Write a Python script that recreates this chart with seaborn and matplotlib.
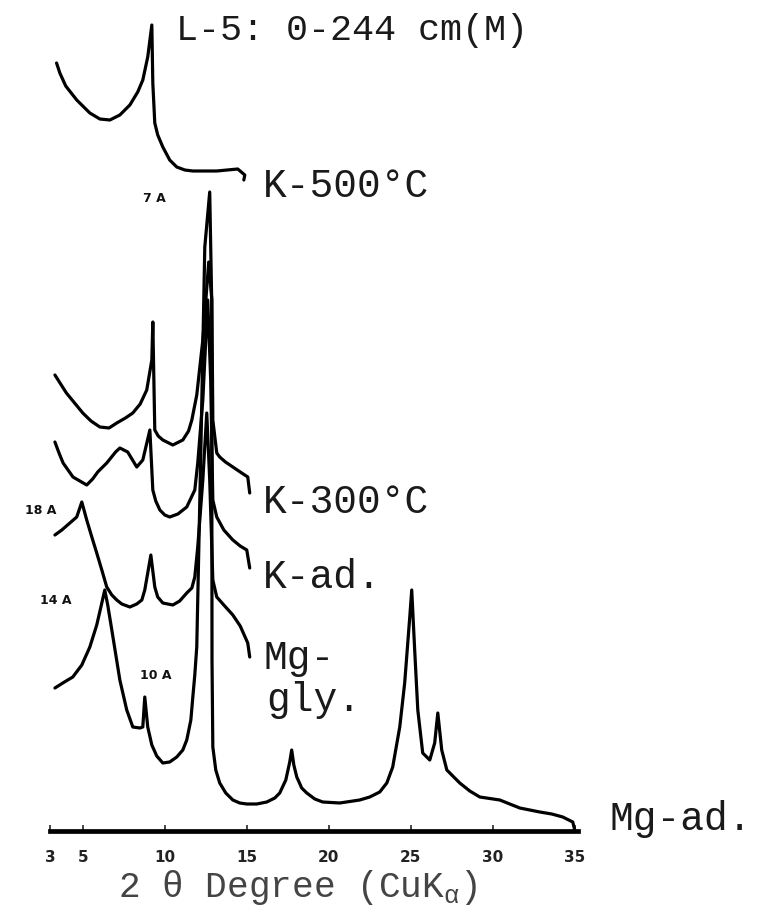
import numpy as np
import pandas as pd
import matplotlib
matplotlib.use("Agg")
import matplotlib.pyplot as plt
import seaborn as sns

# XRD traces, 2-theta (deg) vs offset intensity (arbitrary units)
k500_2t = [3.4, 3.6, 3.96, 4.63, 5.43, 6.04, 6.65, 7.26, 7.87, 8.35, 8.66, 8.96, 9.21, 9.27, 9.39, 9.57, 9.88, 10.3, 10.73, 11.22, 11.71, 13.17, 14.45, 14.88, 14.82]
k500_i = [76.8, 75.8, 74.5, 73.1, 71.8, 71.2, 71.1, 71.6, 72.6, 73.9, 75.1, 77.4, 80.6, 74.8, 70.8, 69.6, 68.4, 67.1, 66.4, 66.1, 66.0, 66.0, 66.2, 65.6, 65.1]

k300_2t = [3.3, 3.65, 4.0, 4.5, 5.0, 5.5, 6.04, 6.6, 7.07, 7.6, 8.05, 8.5, 8.9, 9.21, 9.27, 9.39, 9.6, 9.88, 10.49, 11.1, 11.45, 11.65, 11.95, 12.32, 12.68, 12.87, 12.93, 13.17, 13.35, 13.7, 14.15, 14.6, 15.06, 15.18]
k300_i = [45.6, 44.7, 43.8, 42.8, 41.8, 41.0, 40.4, 40.3, 40.8, 41.3, 41.8, 42.7, 44.1, 47.1, 50.9, 40.1, 39.5, 39.1, 38.6, 39.1, 40.0, 41.1, 43.6, 49.1, 56.9, 53.1, 41.1, 37.8, 37.4, 36.9, 36.4, 35.9, 35.4, 33.8]

kad_2t = [3.3, 3.55, 3.8, 4.4, 5.24, 5.6, 5.91, 6.46, 7.0, 7.26, 7.74, 8.29, 8.66, 9.09, 9.27, 9.45, 9.7, 10.0, 10.3, 10.8, 11.34, 11.83, 12.01, 12.32, 12.62, 12.8, 12.93, 13.17, 13.6, 14.15, 14.6, 15.0, 15.18]
kad_i = [38.9, 37.8, 36.8, 35.4, 34.6, 35.2, 35.9, 36.8, 37.9, 38.3, 37.9, 36.4, 37.1, 40.1, 34.1, 33.0, 32.1, 31.6, 31.4, 31.7, 32.4, 34.1, 36.8, 43.1, 53.1, 45.1, 33.1, 31.4, 30.1, 29.1, 28.5, 28.1, 26.3]

mggly_2t = [3.3, 3.72, 4.21, 4.63, 4.94, 5.24, 5.55, 5.85, 6.16, 6.46, 6.77, 7.07, 7.38, 7.87, 8.29, 8.6, 8.78, 8.96, 9.15, 9.39, 9.57, 9.88, 10.49, 10.91, 11.34, 11.65, 11.83, 12.01, 12.32, 12.56, 12.74, 12.93, 13.17, 13.6, 14.15, 14.6, 15.06, 15.18]
mggly_i = [29.6, 30.1, 30.8, 31.4, 32.9, 31.1, 29.4, 27.8, 26.1, 24.4, 23.6, 23.1, 22.7, 22.4, 22.7, 23.1, 24.1, 25.8, 27.6, 24.4, 23.4, 22.8, 22.6, 23.0, 23.8, 24.3, 25.4, 28.4, 35.1, 41.8, 35.1, 25.1, 23.4, 22.6, 21.6, 20.5, 18.8, 17.4]

mgad_2t = [3.3, 3.78, 4.39, 4.94, 5.43, 5.85, 6.16, 6.34, 6.52, 6.77, 7.26, 7.68, 8.05, 8.48, 8.66, 8.78, 8.96, 9.21, 9.51, 9.88, 10.3, 10.73, 11.1, 11.34, 11.59, 11.71, 11.83, 11.95, 12.2, 12.44, 12.74, 12.86, 12.88, 12.93, 13.11, 13.35, 13.72, 14.15, 14.57, 15.0, 15.61, 16.22, 16.71, 17.01, 17.38, 17.62, 17.74, 17.87, 18.05, 18.35, 18.66, 19.15, 19.63, 20.67, 21.89, 22.5, 23.11, 23.54, 23.9, 24.33, 24.63, 24.94, 25.06, 25.24, 25.43, 25.73, 26.16, 26.46, 26.65, 26.89, 27.2, 27.99, 28.6, 29.21, 30.43, 31.65, 32.87, 33.6, 34.27, 34.88, 35.0]
mgad_i = [14.3, 14.8, 15.4, 16.6, 18.4, 20.6, 22.8, 24.1, 22.6, 20.1, 15.1, 12.1, 10.4, 10.3, 10.4, 13.4, 10.4, 8.6, 7.5, 6.8, 6.9, 7.4, 8.1, 9.1, 11.1, 13.4, 15.6, 18.4, 38.1, 58.4, 63.9, 53.1, 17.1, 8.4, 6.1, 4.8, 3.8, 3.1, 2.8, 2.7, 2.7, 2.9, 3.3, 3.8, 5.1, 6.9, 8.1, 6.6, 5.4, 4.3, 3.8, 3.2, 2.9, 2.8, 3.1, 3.4, 3.9, 4.8, 6.4, 10.4, 14.8, 21.4, 24.1, 18.1, 12.1, 7.8, 7.1, 8.8, 11.8, 8.1, 6.1, 4.8, 4.0, 3.4, 3.1, 2.3, 1.9, 1.7, 1.4, 0.9, 0.1]

tick_vals = [3, 5, 10, 15, 20, 25, 30, 35]

traces = [
    ("K-500", k500_2t, k500_i),
    ("K-300", k300_2t, k300_i),
    ("K-ad", kad_2t, kad_i),
    ("Mg-gly", mggly_2t, mggly_i),
    ("Mg-ad", mgad_2t, mgad_i),
]

sns.set_style("white")
mono = ["Liberation Mono", "DejaVu Sans Mono"]
plt.rcParams['font.family'] = ["DejaVu Sans"]
plt.rcParams['mathtext.fontset'] = "custom"
plt.rcParams['mathtext.rm'] = "Liberation Mono"

W, H = 761, 921
fig = plt.figure(figsize=(W / 100, H / 100), dpi=100)
ax = fig.add_axes([50 / W, 90 / H, 528 / W, 831 / H])

for name, xs, ys in traces:
    df = pd.DataFrame({"two_theta": xs, "intensity": ys})
    sns.lineplot(data=df, x="two_theta", y="intensity", sort=False, estimator=None,
                 color="black", linewidth=2.3, ax=ax)

ax.set_xlim(3.0, 35.2)
ax.set_ylim(0, 83.1)
ax.set_yticks([])
ax.set_xlabel("")
ax.set_ylabel("")
for s in ["top", "right", "left"]:
    ax.spines[s].set_visible(False)
ax.spines["bottom"].set_linewidth(3.4)
ax.spines["bottom"].set_color("black")
ax.set_xticks(tick_vals)
ax.set_xticklabels([str(t) for t in tick_vals], fontweight="bold", fontsize=11, color="#222222")
ax.tick_params(axis="x", direction="in", length=4, width=1.2, pad=14, bottom=True)
ax.patch.set_alpha(0)


def ptext(x, y, s, **kw):
    fig.text(x / W, 1 - y / H, s, **kw)


title = dict(family=mono, fontsize=26.5, color="#1a1a1a", va="center", ha="left")
big = dict(family=mono, fontsize=28.5, color="#1a1a1a", va="center", ha="left")
ptext(176, 30, "L-5: 0-244 cm(M)", **title)
ptext(263, 186, "K-500°C", **big)
ptext(263, 502, "K-300°C", **big)
ptext(263, 577, "K-ad.", **big)
ptext(263, 658, "Mg-", **big)
ptext(266, 700, "gly.", **big)
ptext(610, 819, "Mg-ad.", **big)

small = dict(fontsize=9, fontweight="bold", color="#111111", va="center", ha="center")
ptext(154, 199, "7 A", **small)
ptext(41, 510, "18 A", **small)
ptext(56, 600, "14 A", **small)
ptext(156, 675, "10 A", **small)

ptext(298, 887, r"2 θ Degree (CuK$_{\mathrm{\alpha}}$)", family=mono, fontsize=26,
      color="#444444", va="center", ha="center")

fig.savefig("out.png", dpi=100)
